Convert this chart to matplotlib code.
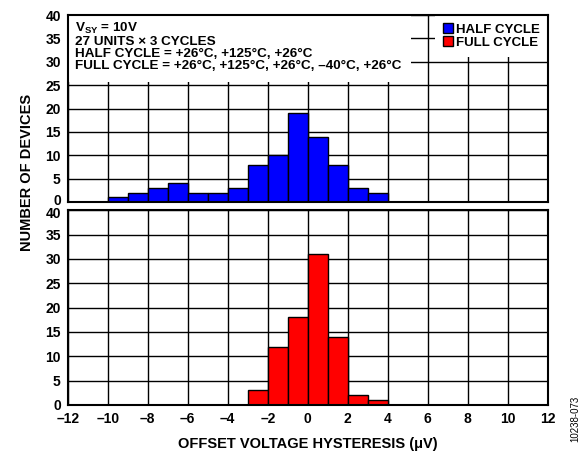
import numpy as np
import matplotlib
matplotlib.use("Agg")
import matplotlib.pyplot as plt
import matplotlib.transforms as mtransforms
from matplotlib.patches import Patch

### Donnees (bins de 1 uV)

bin_left_half = [-10, -9, -8, -7, -6, -5, -4, -3, -2, -1, 0, 1, 2, 3]
count_half = [1, 2, 3, 4, 2, 2, 3, 8, 10, 19, 14, 8, 3, 2]
bin_left_full = [-3, -2, -1, 0, 1, 2, 3]
count_full = [3, 12, 18, 31, 14, 2, 1]
bin_width = 1

x_ticks = [-12, -10, -8, -6, -4, -2, 0, 2, 4, 6, 8, 10, 12]
x_tick_labels = ["–12", "–10", "–8", "–6", "–4", "–2", "0", "2", "4", "6", "8", "10", "12"]
y_ticks = [0, 5, 10, 15, 20, 25, 30, 35, 40]

note = ("V$_{\\mathbf{SY}}$ = 10V\n"
        "27 UNITS × 3 CYCLES\n"
        "HALF CYCLE = +26°C, +125°C, +26°C\n"
        "FULL CYCLE = +26°C, +125°C, +26°C, –40°C, +26°C")

### Style

plt.rcParams["font.family"] = ["Liberation Sans", "DejaVu Sans"]
plt.rcParams["font.weight"] = "bold"
plt.rcParams["mathtext.fontset"] = "custom"
plt.rcParams["mathtext.rm"] = "Liberation Sans:bold"
plt.rcParams["mathtext.bf"] = "Liberation Sans:bold"

fig = plt.figure(figsize=(5.84, 4.55), dpi=100)
ax_top = fig.add_axes([0.116, 0.556, 0.822, 0.411])
ax_bot = fig.add_axes([0.116, 0.110, 0.822, 0.428])

for ax in (ax_top, ax_bot):
    ax.set_xlim(-12, 12)
    ax.set_ylim(0, 40)
    ax.set_xticks(x_ticks)
    ax.set_yticks(y_ticks)
    ax.set_yticklabels([str(v) for v in y_ticks])
    ax.grid(True, color="black", linewidth=1.0)
    ax.set_axisbelow(True)
    ax.tick_params(length=0, labelsize=10, pad=5)
    for s in ax.spines.values():
        s.set_linewidth(1.5)
        s.set_zorder(6)

ax_top.set_xticklabels([])
ax_bot.set_xticklabels(x_tick_labels)

# decale un peu le "0" du haut et le "40" du bas pour qu'ils ne se touchent pas
fig.canvas.draw()
up = mtransforms.ScaledTranslation(0, 2 / 72, fig.dpi_scale_trans)
down = mtransforms.ScaledTranslation(0, -2 / 72, fig.dpi_scale_trans)
lab0 = ax_top.get_yticklabels()[0]
lab0.set_transform(lab0.get_transform() + up)
lab40 = ax_bot.get_yticklabels()[-1]
lab40.set_transform(lab40.get_transform() + down)

ax_top.bar(bin_left_half, count_half, width=bin_width, align="edge",
           color="#0000FF", edgecolor="black", linewidth=1.0, zorder=3)
ax_bot.bar(bin_left_full, count_full, width=bin_width, align="edge",
           color="#FF0000", edgecolor="black", linewidth=1.0, zorder=3)

# texte d'annotation sur fond blanc
ax_top.text(0.015, 0.97, note, transform=ax_top.transAxes, va="top", ha="left",
            fontsize=9.7, fontweight="bold", linespacing=1.0, zorder=4,
            bbox=dict(boxstyle="square,pad=0.75", facecolor="white", edgecolor="none"))

handles = [Patch(facecolor="#0000FF", edgecolor="black", label="HALF CYCLE"),
           Patch(facecolor="#FF0000", edgecolor="black", label="FULL CYCLE")]
leg = ax_top.legend(handles=handles, loc="upper right", fontsize=9.5,
                    frameon=True, fancybox=False, framealpha=1,
                    handlelength=0.8, handleheight=0.8, handletextpad=0.2,
                    labelspacing=0.05, borderpad=0.6, borderaxespad=0.0)
leg.get_frame().set_edgecolor("none")
leg.set_zorder(5)

fig.text(0.046, 0.62, "NUMBER OF DEVICES", rotation=90, ha="center", va="center",
         fontsize=10.5, fontweight="bold")
fig.text(0.527, 0.024, "OFFSET VOLTAGE HYSTERESIS (μV)", ha="center", va="center",
         fontsize=10.5, fontweight="bold")
fig.text(0.985, 0.08, "10238-073", rotation=90, ha="center", va="center",
         fontsize=7, fontweight="normal")

plt.savefig("out.png", dpi=100)
